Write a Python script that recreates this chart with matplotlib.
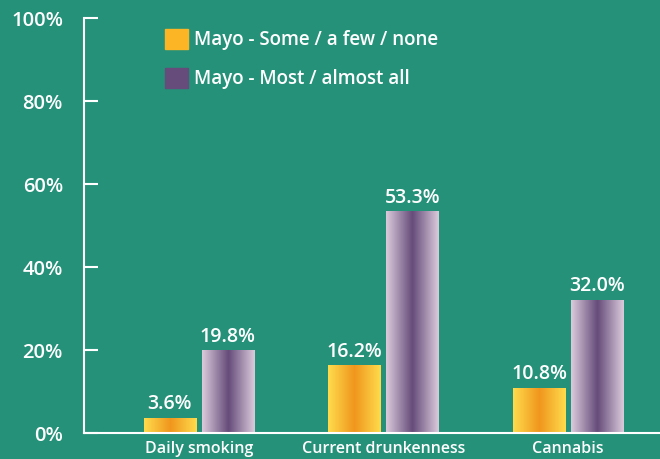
import numpy as np
import matplotlib
matplotlib.use("Agg")
from matplotlib import pyplot as plt
from matplotlib.patches import Patch
from matplotlib.colors import LinearSegmentedColormap

categories = ["Daily smoking", "Current drunkenness", "Cannabis"]
some_few_none = [3.6, 16.2, 10.8]
most_almost_all = [19.8, 53.3, 32.0]
series_labels = ["Mayo - Some / a few / none", "Mayo - Most / almost all"]
yticks = [0, 20, 40, 60, 80, 100]

bg = "#259179"
plt.rcParams["font.family"] = ["Open Sans", "DejaVu Sans"]

fig = plt.figure(figsize=(6.6, 4.59), dpi=100, facecolor=bg)
ax = fig.add_axes([0.127, 0.0566, 0.873, 0.904])
ax.set_facecolor(bg)

yellow_cm = LinearSegmentedColormap.from_list("y", ["#ffdc4c", "#f0961e", "#ffdc4c"])
purple_cm = LinearSegmentedColormap.from_list("p", ["#dccbdc", "#654c7a", "#dccbdc"])
grad = np.linspace(0, 1, 256).reshape(1, -1)

x = np.arange(len(categories))
w = 0.282
off = 0.157

def draw(xs, vals, cmap):
    for xi, v in zip(xs, vals):
        ax.imshow(grad, cmap=cmap, extent=(xi - w / 2, xi + w / 2, 0, v),
                  aspect="auto", zorder=2, interpolation="bilinear")
        ax.annotate(f"{v:.1f}%", (xi, v), xytext=(0, 3), textcoords="offset points",
                    ha="center", va="bottom", color="white", fontsize=14,
                    fontweight="semibold")

draw(x - off, some_few_none, yellow_cm)
draw(x + off, most_almost_all, purple_cm)

ax.set_xlim(-0.623, 2.499)
ax.set_ylim(0, 100)
ax.set_yticks(yticks)
ax.set_yticklabels([f"{t}%" for t in yticks])
ax.set_xticks(x)
ax.set_xticklabels(categories)

for s in ["top", "right"]:
    ax.spines[s].set_visible(False)
for s in ["left", "bottom"]:
    ax.spines[s].set_color("white")
    ax.spines[s].set_linewidth(1.5)
ax.tick_params(axis="y", direction="in", length=10, width=1.5, color="white",
               labelcolor="white", labelsize=14.5, pad=15)
ax.tick_params(axis="x", length=0, labelcolor="white", labelsize=11.5, pad=6)
for lab in ax.get_yticklabels() + ax.get_xticklabels():
    lab.set_fontweight("semibold")

handles = [Patch(color="#fbb525"), Patch(color="#654c7a")]
leg = ax.legend(handles, series_labels, loc="upper left", bbox_to_anchor=(0.118, 1.005),
                frameon=False, fontsize=13.5, handlelength=1.25, handleheight=1.25,
                handletextpad=0.3, labelspacing=0.95, borderaxespad=0.3)
for t in leg.get_texts():
    t.set_color("white")
    t.set_fontweight("semibold")

fig.savefig("out.png", dpi=100, facecolor=bg)
